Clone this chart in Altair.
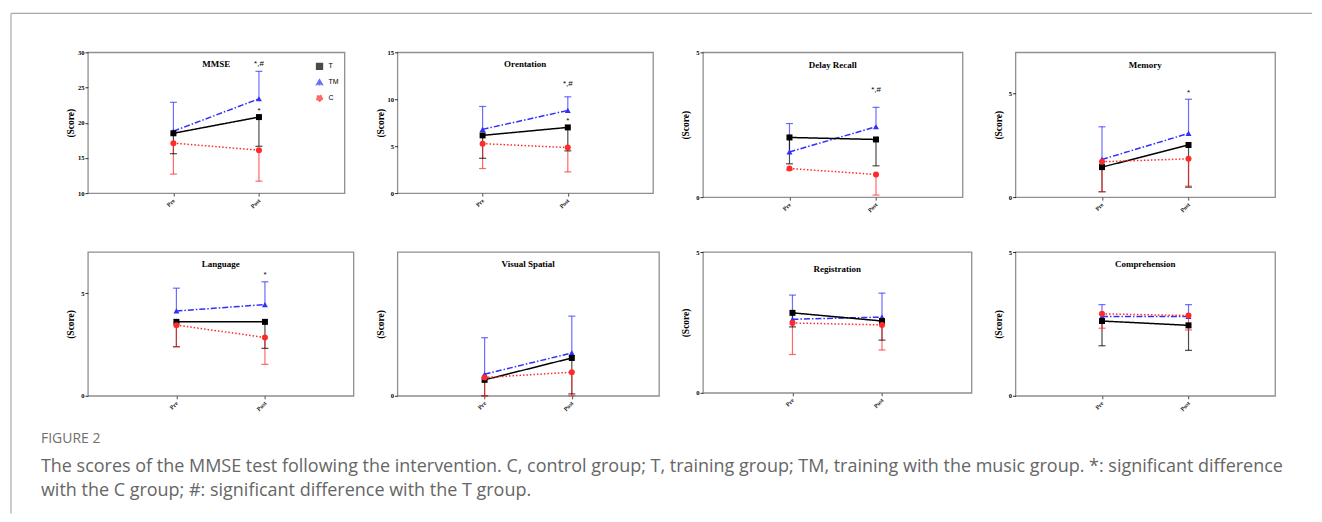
import altair as alt
import pandas as pd

panels = ["MMSE", "Orentation", "Delay Recall", "Memory",
          "Language", "Visual Spatial", "Registration", "Comprehension"]
times = ["Pre", "Post"]
groups = ["T", "TM", "C"]

# means
T_pre   = [18.5, 6.15, 2.06, 1.45, 3.60, 0.111, 2.84, 2.60]
T_post  = [20.8, 7.00, 1.99, 2.52, 3.60, 0.263, 2.55, 2.45]
TM_pre  = [18.8, 6.79, 1.56, 1.82, 4.13, 0.150, 2.61, 2.76]
TM_post = [23.4, 8.81, 2.43, 3.08, 4.44, 0.298, 2.69, 2.76]
C_pre   = [17.1, 5.27, 0.99, 1.71, 3.44, 0.127, 2.48, 2.85]
C_post  = [16.1, 4.85, 0.78, 1.85, 2.84, 0.164, 2.41, 2.79]
# standard deviations (TM drawn upward, T and C downward)
T_pre_sd   = [2.9, 2.44, 0.91, 1.19, 1.21, 0.111, 0.50, 0.86]
T_post_sd  = [4.15, 2.50, 0.91, 2.04, 1.29, 0.250, 0.68, 0.87]
TM_pre_sd  = [4.1, 2.44, 0.98, 1.58, 1.11, 0.254, 0.86, 0.41]
TM_post_sd = [3.9, 1.45, 0.67, 1.65, 1.11, 0.256, 0.85, 0.41]
C_pre_sd   = [4.4, 2.65, 0.05, 1.45, 1.05, 0.127, 1.12, 0.50]
C_post_sd  = [4.4, 2.59, 0.71, 1.32, 1.31, 0.164, 0.89, 0.50]

# significance marks: (panel index, label, value)
sig_panel = [0, 0, 1, 1, 2, 3, 4]
sig_label = ["*,#", "*", "*,#", "*", "*,#", "*", "*"]
sig_value = [28.3, 21.6, 11.6, 7.7, 3.7, 5.05, 5.87]

y_domains = [(10, 30), (0, 15), (0, 5), (0, 7), (0, 7), (0, 1), (0, 5), (0, 5)]
y_ticks = [[10, 15, 20, 25, 30], [0, 5, 10, 15], [0, 5], [0, 5], [0, 5], [0], [0, 5], [0, 5]]

fig_label = "FIGURE 2"
caption_lines = [
    "The scores of the MMSE test following the intervention. C, control group; T, training group; TM, training with the music group. *: significant difference",
    "with the C group; #: significant difference with the T group.",
]

widths = [257, 256, 260, 260, 266, 262, 269, 260]
heights = [141, 141, 145, 145, 144, 144, 141, 144]
title_y = [12, 12, 13, 13, 12, 12, 17, 12]

SERIF = "Liberation Serif"
SANS = "Liberation Sans"


def panel(i):
    w, h = widths[i], heights[i]
    rows = []
    series = {
        "TM": (TM_pre, TM_post, TM_pre_sd, TM_post_sd, 1),
        "T": (T_pre, T_post, T_pre_sd, T_post_sd, -1),
        "C": (C_pre, C_post, C_pre_sd, C_post_sd, -1),
    }
    for g in ["TM", "T", "C"]:
        pre, post, psd, qsd, d = series[g]
        rows.append(dict(time="Pre", group=g, mean=pre[i], end=pre[i] + d * psd[i]))
        rows.append(dict(time="Post", group=g, mean=post[i], end=post[i] + d * qsd[i]))
    df = pd.DataFrame(rows)

    x = alt.X("time:N", scale=alt.Scale(domain=times, type="point", padding=1),
              axis=alt.Axis(title=None, labelAngle=315, labelFont=SERIF, labelFontWeight="bold",
                            labelFontSize=6, labelColor="#222", labelAlign="right",
                            labelBaseline="middle", labelPadding=3, tickSize=3,
                            tickColor="#222", tickWidth=0.8, domain=False, grid=False))
    yscale = alt.Scale(domain=list(y_domains[i]), nice=False, zero=False)
    yaxis = alt.Axis(values=y_ticks[i], title="(Score)", titleFont=SERIF, titleFontWeight="bold",
                     titleFontSize=9.5, titleColor="black", titlePadding=2,
                     labelFont=SERIF, labelFontWeight="bold", labelFontSize=6.5, labelColor="black",
                     labelPadding=1, tickColor="black", tickSize=3, tickWidth=0.8,
                     domain=False, grid=False, minExtent=10, maxExtent=10)
    y = alt.Y("mean:Q", scale=yscale, axis=yaxis)

    if i == 0:
        leg = alt.Legend(orient="none", legendX=228, legendY=10, title=None, labelFont=SANS,
                         labelFontSize=7, labelColor="black", symbolSize=34, rowPadding=4,
                         padding=0, labelOffset=5)
    else:
        leg = None
    cscale = alt.Scale(domain=groups, range=["#000000", "#2f2fff", "#ff2a2a"])
    color = alt.Color("group:N", scale=cscale, legend=leg)
    shape = alt.Shape("group:N", scale=alt.Scale(domain=groups, range=["square", "triangle-up", "circle"]),
                      legend=leg)
    dash = alt.StrokeDash("group:N", scale=alt.Scale(domain=groups, range=[[1, 0], [6, 2, 1.5, 2], [1.5, 2]]),
                          legend=None)

    base = alt.Chart(df)
    err = base.mark_rule(strokeWidth=1.2, opacity=0.7).encode(x=x, y=y, y2="end:Q", color=color)
    cap = base.mark_tick(size=7, thickness=1.2, opacity=0.7).encode(
        x=x, y=alt.Y("end:Q", scale=yscale, axis=yaxis), color=color)
    line = base.mark_line(strokeWidth=1.5).encode(x=x, y=y, color=color, strokeDash=dash)
    pts = base.mark_point(filled=True, size=36, opacity=1, strokeWidth=0).encode(
        x=x, y=y, color=color, shape=shape)

    ttl = alt.Chart(pd.DataFrame({"t": [panels[i]]})).mark_text(
        font=SERIF, fontWeight="bold", fontSize=9, baseline="middle", color="black"
    ).encode(x=alt.value(w / 2), y=alt.value(title_y[i]), text="t:N")

    layers = [err, cap, line, pts, ttl]

    sig = pd.DataFrame({
        "time": ["Post"] * sum(1 for p in sig_panel if p == i),
        "label": [l for p, l in zip(sig_panel, sig_label) if p == i],
        "mean": [v for p, v in zip(sig_panel, sig_value) if p == i],
    })
    if len(sig):
        layers.append(alt.Chart(sig).mark_text(font=SANS, fontSize=8, color="black",
                                               baseline="middle").encode(
            x=x, y=y, text="label:N"))

    if i == 0:
        one = pd.DataFrame({"a": [0]})
        layers.append(alt.Chart(one).mark_rule(color="#a8a8a8", strokeWidth=1.2).encode(
            x=alt.value(-77), x2=alt.value(1226), y=alt.value(-39)))
        layers.append(alt.Chart(one).mark_rule(color="#a8a8a8", strokeWidth=1.2).encode(
            x=alt.value(-77), y=alt.value(-39), y2=alt.value(462)))
    if i == 4:
        layers.append(alt.Chart(pd.DataFrame({"t": [fig_label]})).mark_text(
            font="Open Sans", fontSize=14, color="#707070", align="left", baseline="alphabetic"
        ).encode(x=alt.value(-47), y=alt.value(191), text="t:N"))
        for k, yy in enumerate([220, 244]):
            layers.append(alt.Chart(pd.DataFrame({"t": [caption_lines[k]]})).mark_text(
                font="Open Sans", fontSize=18, color="#666666", align="left", baseline="alphabetic"
            ).encode(x=alt.value(-47), y=alt.value(yy), text="t:N"))

    return alt.layer(*layers).properties(width=w, height=h)


res = dict(color="independent", shape="independent", strokeDash="independent")
chart = alt.ConcatChart(
    concat=[panel(i) for i in range(8)], columns=4,
    spacing=alt.RowColnumber(row=55, column=44), bounds="flush", align="each",
).resolve_scale(**res).resolve_legend(color="independent", shape="independent").properties(
    padding={"left": 1, "top": 3, "right": 0, "bottom": 0}, background="white"
).configure_view(stroke="#8f8f8f", strokeWidth=1.3, fill="white")

chart.save("out.html", embed_options={"renderer": "svg", "actions": False})
